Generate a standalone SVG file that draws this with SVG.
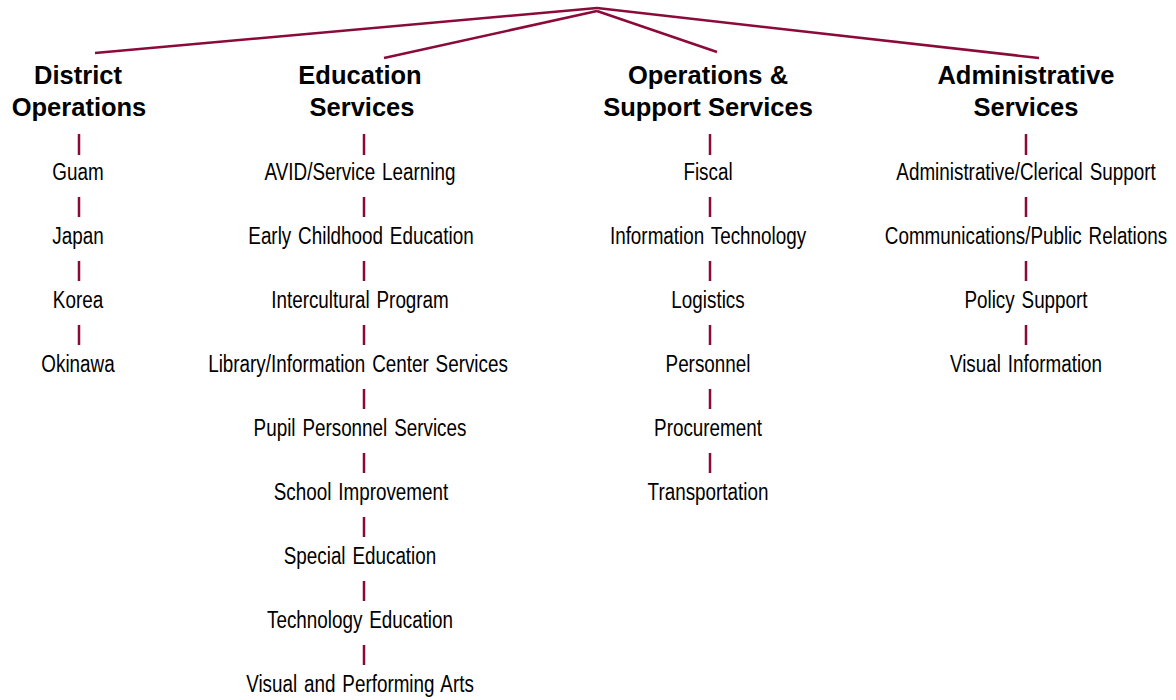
<svg xmlns="http://www.w3.org/2000/svg" width="1176" height="700" viewBox="0 0 1176 700">
<style>
.h{font-family:"Liberation Sans",Arial,sans-serif;font-weight:bold;font-size:25.5px;fill:#000;text-anchor:middle}
.i{font-family:"Liberation Sans",Arial,sans-serif;font-size:23px;fill:#000;text-anchor:middle;word-spacing:2px}
.c{stroke:#8B0A3A;stroke-width:2.5;fill:none}
</style>
<rect width="1176" height="700" fill="#fff"/>
<g id="connectors" class="c">
<line x1="95" y1="53" x2="597" y2="8"/>
<line x1="384" y1="58" x2="597" y2="11"/>
<line x1="597" y1="11" x2="717" y2="52"/>
<line x1="597" y1="8" x2="1039" y2="58"/>
<path d="M79 134V155M79 197V217M79 261V281M79 325V345"/>
<path d="M364 134V155M364 197V217M364 261V281M364 325V345M364 389V409M364 453V473M364 517V537M364 581V601M364 645V665"/>
<path d="M710 134V155M710 197V217M710 261V281M710 325V345M710 389V409M710 453V473"/>
<path d="M1026 134V155M1026 197V217M1026 261V281M1026 325V345"/>
</g>
<g id="district">
<text class="h" x="78" y="84">District</text>
<text class="h" x="79" y="116">Operations</text>
<text class="i" transform="translate(78,180) scale(0.82,1)">Guam</text>
<text class="i" transform="translate(78,244) scale(0.82,1)">Japan</text>
<text class="i" transform="translate(78,308) scale(0.82,1)">Korea</text>
<text class="i" transform="translate(78,372) scale(0.82,1)">Okinawa</text>
</g>
<g id="education">
<text class="h" x="360" y="84">Education</text>
<text class="h" x="362" y="116">Services</text>
<text class="i" transform="translate(360,180) scale(0.82,1)">AVID/Service Learning</text>
<text class="i" transform="translate(361,244) scale(0.82,1)">Early Childhood Education</text>
<text class="i" transform="translate(360,308) scale(0.82,1)">Intercultural Program</text>
<text class="i" transform="translate(358,372) scale(0.82,1)">Library/Information Center Services</text>
<text class="i" transform="translate(360,436) scale(0.82,1)">Pupil Personnel Services</text>
<text class="i" transform="translate(361,500) scale(0.82,1)">School Improvement</text>
<text class="i" transform="translate(360,564) scale(0.82,1)">Special Education</text>
<text class="i" transform="translate(360,628) scale(0.82,1)">Technology Education</text>
<text class="i" transform="translate(360,692) scale(0.82,1)">Visual and Performing Arts</text>
</g>
<g id="operations">
<text class="h" x="708" y="84">Operations &amp;</text>
<text class="h" x="708" y="116">Support Services</text>
<text class="i" transform="translate(708,180) scale(0.82,1)">Fiscal</text>
<text class="i" transform="translate(708,244) scale(0.82,1)">Information Technology</text>
<text class="i" transform="translate(708,308) scale(0.82,1)">Logistics</text>
<text class="i" transform="translate(708,372) scale(0.82,1)">Personnel</text>
<text class="i" transform="translate(708,436) scale(0.82,1)">Procurement</text>
<text class="i" transform="translate(708,500) scale(0.82,1)">Transportation</text>
</g>
<g id="administrative">
<text class="h" x="1026" y="84">Administrative</text>
<text class="h" x="1026" y="116">Services</text>
<text class="i" transform="translate(1026,180) scale(0.82,1)">Administrative/Clerical Support</text>
<text class="i" transform="translate(1026,244) scale(0.82,1)">Communications/Public Relations</text>
<text class="i" transform="translate(1026,308) scale(0.82,1)">Policy Support</text>
<text class="i" transform="translate(1026,372) scale(0.82,1)">Visual Information</text>
</g>
</svg>
